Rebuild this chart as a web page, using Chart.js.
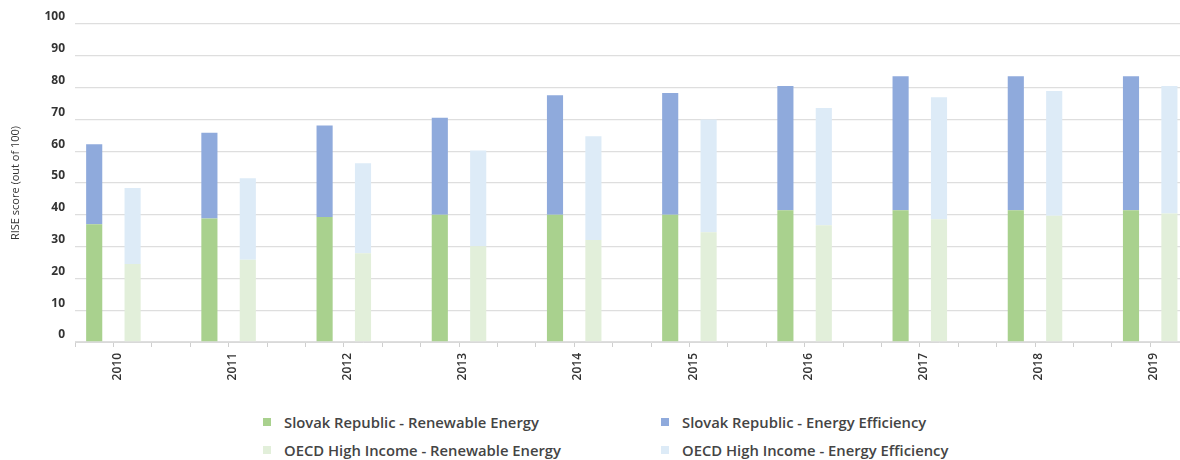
<!DOCTYPE html>
<html>
<head>
<meta charset="utf-8">
<script src="https://cdn.jsdelivr.net/npm/chart.js@4.4.1/dist/chart.umd.min.js"></script>
<style>
  html, body { margin: 0; padding: 0; background: #fff; overflow: hidden; width: 1180px; height: 460px; }
  #wrap { position: relative; width: 1180px; height: 460px; overflow: hidden; }
  #chartBox { position: absolute; left: 0; top: 0; width: 1231px; height: 380px; }
  .lg { position: absolute; font-family: "Open Sans", sans-serif; font-weight: 600; font-size: 14.8px; color: #444; white-space: nowrap; line-height: 16px; }
  .lg i { position: absolute; width: 8px; height: 8px; left: 0; top: 4px; }
  .lg span { position: absolute; left: 21px; top: 0; }
</style>
</head>
<body>
<div id="wrap">
  <div id="chartBox"><canvas id="c" width="1231" height="380"></canvas></div>
  <div id="legend"></div>
</div>
<script>
// ---- data ----
const years = ['2010','2011','2012','2013','2014','2015','2016','2017','2018','2019'];
const srRenewable    = [37.0, 38.8, 39.3, 40.0, 40.0, 40.0, 41.4, 41.4, 41.4, 41.4];
const srEfficiency   = [25.2, 27.0, 28.8, 30.5, 37.6, 38.3, 39.1, 42.2, 42.2, 42.2];
const oecdRenewable  = [24.5, 25.9, 27.9, 30.1, 32.1, 34.5, 36.7, 38.6, 39.7, 40.4];
const oecdEfficiency = [23.9, 25.6, 28.3, 30.1, 32.6, 35.5, 36.9, 38.4, 39.2, 40.1];
const seriesNames = [
  'Slovak Republic - Renewable Energy',
  'Slovak Republic - Energy Efficiency',
  'OECD High Income - Renewable Energy',
  'OECD High Income - Energy Efficiency'
];
const seriesColors = ['#a9d18e', '#8faadc', '#e2efda', '#ddebf7'];
const yMin = 0, yMax = 100, yStep = 10;
const axisTitle = 'RISE score (out of 100)';

// each year has three slots: Slovak Republic, OECD, gap
const SLOTS = 3;
const slotLabels = years.flatMap(y => [y, '', '']);
function toSlots(values, slot) {
  const out = new Array(years.length * SLOTS).fill(null);
  values.forEach((v, i) => { out[i * SLOTS + slot] = v; });
  return out;
}

const datasets = [
  { label: seriesNames[0], data: toSlots(srRenewable, 0),    backgroundColor: seriesColors[0] },
  { label: seriesNames[1], data: toSlots(srEfficiency, 0),   backgroundColor: seriesColors[1] },
  { label: seriesNames[2], data: toSlots(oecdRenewable, 1),  backgroundColor: seriesColors[2] },
  { label: seriesNames[3], data: toSlots(oecdEfficiency, 1), backgroundColor: seriesColors[3] }
];
datasets.forEach(d => { d.borderWidth = 0; d.categoryPercentage = 1; d.barPercentage = 0.42; });

new Chart(document.getElementById('c'), {
  type: 'bar',
  data: { labels: slotLabels, datasets },
  options: {
    responsive: false,
    animation: false,
    devicePixelRatio: 1,
    layout: { padding: { top: 24, right: 4, left: 0, bottom: 0 } },
    plugins: { legend: { display: false }, tooltip: { enabled: false } },
    scales: {
      x: {
        stacked: true,
        offset: true,
        grid: { offset: true, drawOnChartArea: false, drawTicks: true, tickLength: 5, color: '#cfcfcf' },
        border: { color: '#d9d9d9', width: 1 },
        ticks: {
          autoSkip: false, minRotation: 90, maxRotation: 90, labelOffset: 23, padding: 6,
          color: '#333', font: { family: 'Open Sans', size: 12, weight: '600' }
        },
        afterFit(scale) { scale.height = 38; }
      },
      y: {
        stacked: true,
        min: yMin, max: yMax,
        grid: { drawTicks: false, color: '#dedede', lineWidth: 1.3 },
        border: { display: false },
        ticks: {
          stepSize: yStep, padding: 10, labelOffset: -7,
          color: '#333', font: { family: 'Open Sans', size: 12, weight: '700' }
        },
        title: {
          display: true, text: axisTitle, color: '#333',
          font: { family: 'Open Sans', size: 11, weight: '400' },
          padding: { top: 9, bottom: 0 }
        },
        afterFit(scale) { scale.width = 75; }
      }
    }
  }
});

// ---- legend (two columns) ----
const legendPos = [[263, 414], [661, 414], [263, 442], [661, 442]];
const legendOrder = [0, 1, 2, 3];
const lg = document.getElementById('legend');
legendOrder.forEach((idx, k) => {
  const d = document.createElement('div');
  d.className = 'lg';
  d.style.left = legendPos[k][0] + 'px';
  d.style.top = legendPos[k][1] + 'px';
  d.innerHTML = '<i style="background:' + seriesColors[idx] + '"></i><span>' + seriesNames[idx] + '</span>';
  lg.appendChild(d);
});
</script>
</body>
</html>
